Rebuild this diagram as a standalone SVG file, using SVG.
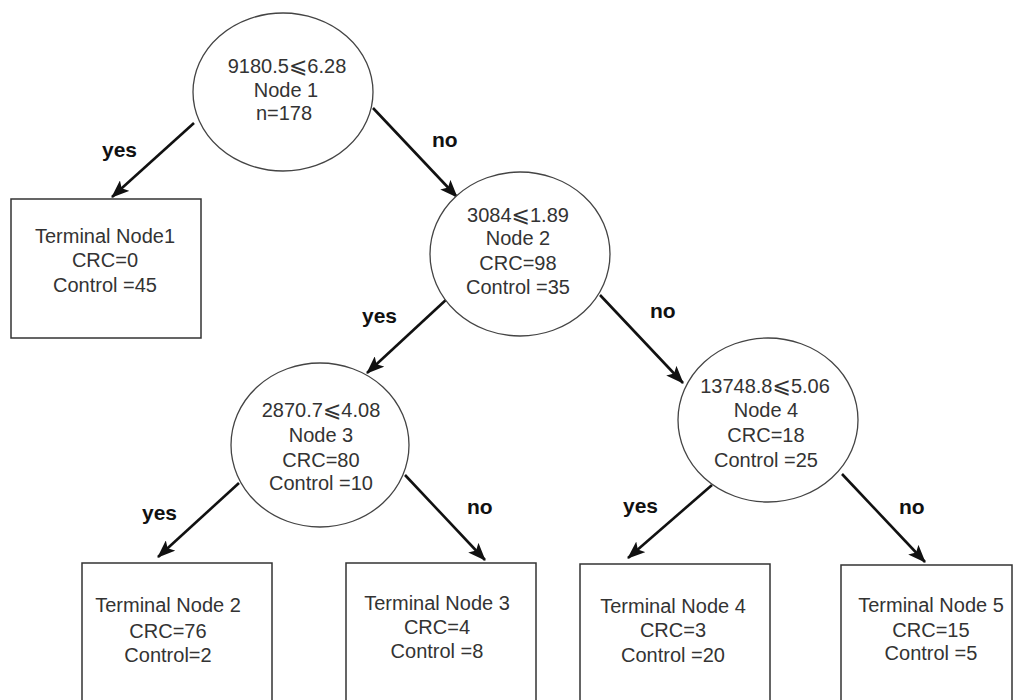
<svg xmlns="http://www.w3.org/2000/svg" width="1018" height="700" viewBox="0 0 1018 700">
<style>
.bg{fill:#ffffff}
.ell{fill:#ffffff;stroke:#444;stroke-width:1.3}
.box{fill:#ffffff;stroke:#333;stroke-width:1.5}
.t{font-family:"Liberation Sans",Arial,sans-serif;font-size:20px;fill:#333;text-anchor:middle}
.sym{font-family:"DejaVu Sans","Noto Sans",sans-serif;font-size:22px}
.lbl{font-family:"Liberation Sans",Arial,sans-serif;font-size:21px;font-weight:bold;fill:#111}
.edge{stroke:#111;stroke-width:2.6;fill:none;marker-end:url(#ah)}
</style>
<defs>
<marker id="ah" markerUnits="userSpaceOnUse" markerWidth="18" markerHeight="14" viewBox="0 0 18 14" refX="17" refY="7" orient="auto">
<path d="M0,0 L18,7 L0,14 L4,7 Z" fill="#111"/>
</marker>
</defs>
<rect class="bg" x="0" y="0" width="1018" height="700"/>
<g id="connectors">
<line class="edge" x1="194" y1="123" x2="112" y2="197"/>
<line class="edge" x1="373" y1="108" x2="457" y2="197"/>
<line class="edge" x1="448" y1="298" x2="367" y2="373"/>
<line class="edge" x1="600" y1="295" x2="683" y2="383"/>
<line class="edge" x1="239" y1="483" x2="158" y2="557"/>
<line class="edge" x1="405" y1="475" x2="485" y2="560"/>
<line class="edge" x1="712" y1="485" x2="628" y2="558"/>
<line class="edge" x1="842" y1="474" x2="925" y2="562"/>
<text class="lbl" x="102" y="157">yes</text>
<text class="lbl" x="432" y="147">no</text>
<text class="lbl" x="362" y="323">yes</text>
<text class="lbl" x="650" y="318">no</text>
<text class="lbl" x="142" y="520">yes</text>
<text class="lbl" x="467" y="514">no</text>
<text class="lbl" x="623" y="513">yes</text>
<text class="lbl" x="899" y="514">no</text>
</g>
<g id="node1">
<ellipse class="ell" cx="283" cy="92" rx="90" ry="79"/>
<text class="t" x="287" y="73">9180.5<tspan class="sym">⩽</tspan>6.28</text>
<text class="t" x="286" y="97">Node 1</text>
<text class="t" x="284" y="120">n=178</text>
</g>
<g id="terminal1">
<rect class="box" x="11" y="199" width="190" height="139"/>
<text class="t" x="105" y="243">Terminal Node1</text>
<text class="t" x="105" y="267">CRC=0</text>
<text class="t" x="105" y="292">Control =45</text>
</g>
<g id="node2">
<ellipse class="ell" cx="520" cy="254" rx="90" ry="82"/>
<text class="t" x="518" y="222">3084<tspan class="sym">⩽</tspan>1.89</text>
<text class="t" x="518" y="245">Node 2</text>
<text class="t" x="518" y="270">CRC=98</text>
<text class="t" x="518" y="294">Control =35</text>
</g>
<g id="node3">
<ellipse class="ell" cx="320" cy="445" rx="89" ry="82"/>
<text class="t" x="321" y="417">2870.7<tspan class="sym">⩽</tspan>4.08</text>
<text class="t" x="321" y="442">Node 3</text>
<text class="t" x="321" y="467">CRC=80</text>
<text class="t" x="321" y="490">Control =10</text>
</g>
<g id="node4">
<ellipse class="ell" cx="768" cy="420" rx="90" ry="82"/>
<text class="t" x="765" y="393">13748.8<tspan class="sym">⩽</tspan>5.06</text>
<text class="t" x="766" y="417">Node 4</text>
<text class="t" x="766" y="442">CRC=18</text>
<text class="t" x="766" y="467">Control =25</text>
</g>
<g id="terminal2">
<rect class="box" x="82" y="563" width="190" height="150"/>
<text class="t" x="168" y="612">Terminal Node 2</text>
<text class="t" x="168" y="638">CRC=76</text>
<text class="t" x="168" y="662">Control=2</text>
</g>
<g id="terminal3">
<rect class="box" x="346" y="563" width="190" height="150"/>
<text class="t" x="437" y="610">Terminal Node 3</text>
<text class="t" x="437" y="634">CRC=4</text>
<text class="t" x="437" y="658">Control =8</text>
</g>
<g id="terminal4">
<rect class="box" x="580" y="564" width="190" height="150"/>
<text class="t" x="673" y="613">Terminal Node 4</text>
<text class="t" x="673" y="637">CRC=3</text>
<text class="t" x="673" y="662">Control =20</text>
</g>
<g id="terminal5">
<rect class="box" x="841" y="565" width="171" height="150"/>
<text class="t" x="931" y="612">Terminal Node 5</text>
<text class="t" x="931" y="637">CRC=15</text>
<text class="t" x="931" y="660">Control =5</text>
</g>
</svg>
